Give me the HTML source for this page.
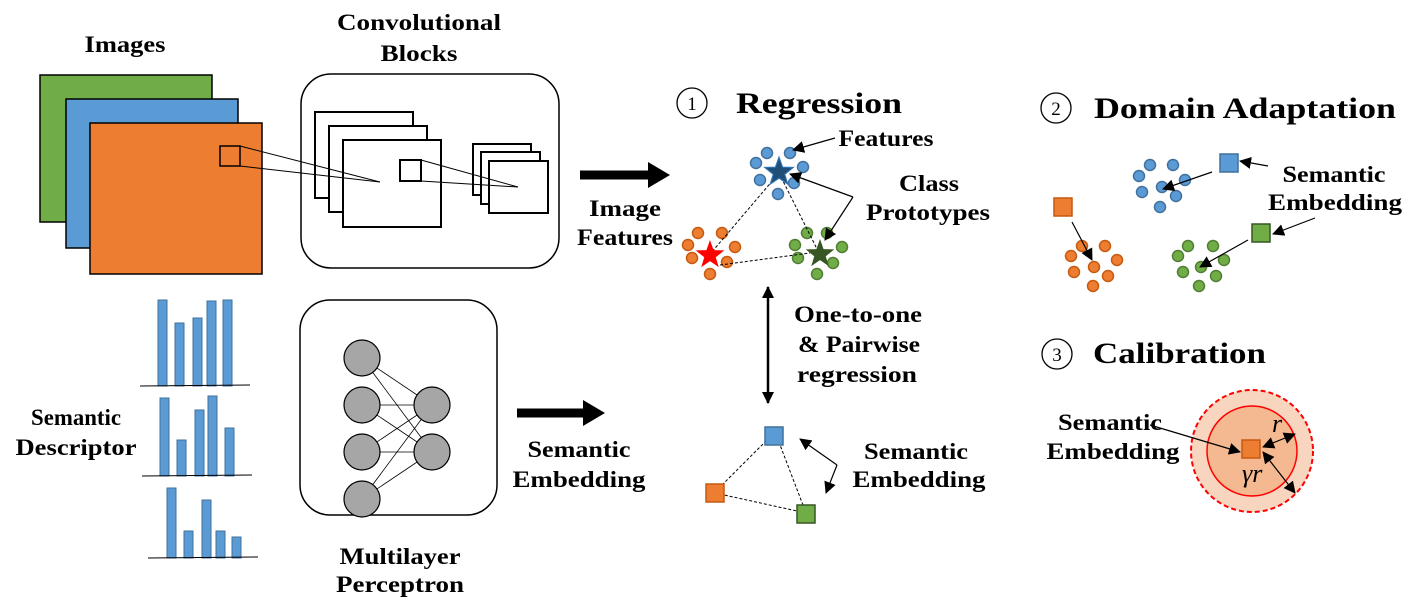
<!DOCTYPE html>
<html><head><meta charset="utf-8"><style>
html,body{margin:0;padding:0;background:#fff;}
svg{display:block;}
text{font-family:"Liberation Serif",serif;font-weight:bold;fill:#000;}
text.n{font-weight:normal;}
</style></head><body>
<svg width="1419" height="615" viewBox="0 0 1419 615" xmlns="http://www.w3.org/2000/svg">
<defs>
<marker id="ah2" markerWidth="12" markerHeight="12" refX="11" refY="6" orient="auto" markerUnits="userSpaceOnUse" viewBox="0 0 12 12">
<path d="M0,0 L12,6 L0,12 z" fill="#000"/></marker>
<marker id="ahs" markerWidth="12" markerHeight="12" refX="1" refY="6" orient="auto" markerUnits="userSpaceOnUse" viewBox="0 0 12 12">
<path d="M12,0 L0,6 L12,12 z" fill="#000"/></marker>
</defs>

<!-- Images -->
<text x="125" y="52" font-size="23" text-anchor="middle" textLength="81" lengthAdjust="spacingAndGlyphs">Images</text>
<rect x="40" y="75" width="172" height="147" fill="#70ad47" stroke="#000" stroke-width="1.5"/>
<rect x="66" y="99" width="172" height="149" fill="#5b9bd5" stroke="#000" stroke-width="1.5"/>
<rect x="90" y="123" width="172" height="151" fill="#ed7d31" stroke="#000" stroke-width="1.5"/>
<rect x="220" y="146" width="20" height="20" fill="none" stroke="#000" stroke-width="1.5"/>

<!-- Conv blocks -->
<text x="419" y="30" font-size="23" text-anchor="middle" textLength="164" lengthAdjust="spacingAndGlyphs">Convolutional</text>
<text x="419" y="61" font-size="23" text-anchor="middle" textLength="77" lengthAdjust="spacingAndGlyphs">Blocks</text>
<rect x="301" y="74" width="258" height="194" rx="30" fill="#fff" stroke="#000" stroke-width="1.5"/>
<rect x="315" y="112" width="98" height="86" fill="#fff" stroke="#000" stroke-width="2"/>
<rect x="329" y="126" width="98" height="86" fill="#fff" stroke="#000" stroke-width="2"/>
<rect x="343" y="140" width="98" height="87" fill="#fff" stroke="#000" stroke-width="2"/>
<rect x="400" y="160" width="21" height="21" fill="#fff" stroke="#000" stroke-width="2"/>
<rect x="473" y="144" width="58" height="51" fill="#fff" stroke="#000" stroke-width="2"/>
<rect x="481" y="152" width="59" height="52" fill="#fff" stroke="#000" stroke-width="2"/>
<rect x="489" y="161" width="59" height="52" fill="#fff" stroke="#000" stroke-width="2"/>
<g stroke="#000" stroke-width="1" fill="none">
<line x1="240" y1="146" x2="380" y2="182"/>
<line x1="240" y1="166" x2="380" y2="182"/>
<line x1="421" y1="160" x2="518" y2="187"/>
<line x1="421" y1="181" x2="518" y2="187"/>
</g>

<!-- big arrows -->
<line x1="580" y1="175" x2="650" y2="175" stroke="#000" stroke-width="9"/>
<path d="M648,162 L670,175 L648,188 z" fill="#000"/>
<text x="625" y="216" font-size="23" text-anchor="middle" textLength="72" lengthAdjust="spacingAndGlyphs">Image</text>
<text x="625" y="245" font-size="23" text-anchor="middle" textLength="96" lengthAdjust="spacingAndGlyphs">Features</text>

<line x1="517" y1="413" x2="585" y2="413" stroke="#000" stroke-width="9"/>
<path d="M583,400 L605,413 L583,426 z" fill="#000"/>
<text x="579" y="457" font-size="23" text-anchor="middle" textLength="103" lengthAdjust="spacingAndGlyphs">Semantic</text>
<text x="579" y="487" font-size="23" text-anchor="middle" textLength="133" lengthAdjust="spacingAndGlyphs">Embedding</text>

<!-- bar charts -->
<g fill="#5b9bd5" stroke="#41719c" stroke-width="1">
<rect x="158" y="300" width="9" height="86"/><rect x="175" y="323" width="9" height="63"/><rect x="193" y="318" width="9" height="68"/><rect x="207" y="301" width="9" height="85"/><rect x="223" y="300" width="9" height="86"/>
<rect x="160" y="398" width="9" height="78"/><rect x="177" y="440" width="9" height="36"/><rect x="195" y="410" width="9" height="66"/><rect x="208" y="396" width="9" height="80"/><rect x="225" y="428" width="9" height="48"/>
<rect x="167" y="488" width="9" height="70"/><rect x="184" y="531" width="9" height="27"/><rect x="202" y="500" width="9" height="58"/><rect x="216" y="531" width="9" height="27"/><rect x="232" y="537" width="9" height="21"/>
</g>
<g stroke="#000" stroke-width="1">
<line x1="140" y1="386" x2="250" y2="385"/><line x1="142" y1="476" x2="252" y2="475"/><line x1="148" y1="558" x2="258" y2="557"/>
</g>
<text x="76" y="425" font-size="23" text-anchor="middle" textLength="90" lengthAdjust="spacingAndGlyphs">Semantic</text>
<text x="76" y="455" font-size="23" text-anchor="middle" textLength="121" lengthAdjust="spacingAndGlyphs">Descriptor</text>

<!-- MLP -->
<rect x="300" y="300" width="197" height="215" rx="30" fill="#fff" stroke="#000" stroke-width="1.5"/>
<g stroke="#000" stroke-width="0.8">
<line x1="362" y1="358" x2="432" y2="405"/><line x1="362" y1="358" x2="432" y2="452"/>
<line x1="362" y1="405" x2="432" y2="405"/><line x1="362" y1="405" x2="432" y2="452"/>
<line x1="362" y1="452" x2="432" y2="405"/><line x1="362" y1="452" x2="432" y2="452"/>
<line x1="362" y1="499" x2="432" y2="405"/><line x1="362" y1="499" x2="432" y2="452"/>
</g>
<g fill="#a6a6a6" stroke="#000" stroke-width="1.2">
<circle cx="362" cy="358" r="18"/><circle cx="362" cy="405" r="18"/><circle cx="362" cy="452" r="18"/><circle cx="362" cy="499" r="18"/>
<circle cx="432" cy="405" r="18"/><circle cx="432" cy="452" r="18"/>
</g>
<text x="400" y="564" font-size="23" text-anchor="middle" textLength="121" lengthAdjust="spacingAndGlyphs">Multilayer</text>
<text x="400" y="592" font-size="23" text-anchor="middle" textLength="128" lengthAdjust="spacingAndGlyphs">Perceptron</text>

<!-- Regression -->
<circle cx="692" cy="103" r="15" fill="none" stroke="#000" stroke-width="1.3"/>
<text x="692" y="110" font-size="19" text-anchor="middle" class="n">1</text>
<text x="736" y="113" font-size="30" textLength="166" lengthAdjust="spacingAndGlyphs">Regression</text>

<g stroke-width="1.5">
<g fill="#5b9bd5" stroke="#41719c">
<circle cx="767" cy="153" r="5.5"/><circle cx="790" cy="153" r="5.5"/><circle cx="756" cy="163" r="5.5"/><circle cx="803" cy="167" r="5.5"/><circle cx="760" cy="180" r="5.5"/><circle cx="794" cy="183" r="5.5"/><circle cx="778" cy="194" r="5.5"/>
</g>
<g fill="#ed7d31" stroke="#c55a11">
<circle cx="698" cy="233" r="5.5"/><circle cx="722" cy="233" r="5.5"/><circle cx="688" cy="245" r="5.5"/><circle cx="735" cy="247" r="5.5"/><circle cx="692" cy="258" r="5.5"/><circle cx="727" cy="262" r="5.5"/><circle cx="710" cy="274" r="5.5"/>
</g>
<g fill="#70ad47" stroke="#507e32">
<circle cx="807" cy="233" r="5.5"/><circle cx="827" cy="233" r="5.5"/><circle cx="795" cy="245" r="5.5"/><circle cx="842" cy="247" r="5.5"/><circle cx="798" cy="258" r="5.5"/><circle cx="833" cy="263" r="5.5"/><circle cx="817" cy="274" r="5.5"/>
</g>
</g>
<g stroke="#000" stroke-width="1" stroke-dasharray="3,2" fill="none">
<line x1="779" y1="173" x2="711" y2="253"/><line x1="779" y1="173" x2="820" y2="255"/><line x1="720" y1="265" x2="810" y2="253"/>
</g>
<polygon transform="translate(779,172) scale(1.15)" points="0,-13 3.1,-4.2 12.4,-4 5,2 7.6,10.5 0,5.3 -7.6,10.5 -5,2 -12.4,-4 -3.1,-4.2" fill="#1f4e79" stroke="#2e75b6" stroke-width="1"/>
<polygon transform="translate(710,255) scale(1.15)" points="0,-13 3.1,-4.2 12.4,-4 5,2 7.6,10.5 0,5.3 -7.6,10.5 -5,2 -12.4,-4 -3.1,-4.2" fill="#ff0000"/>
<polygon transform="translate(820,254) scale(1.15)" points="0,-13 3.1,-4.2 12.4,-4 5,2 7.6,10.5 0,5.3 -7.6,10.5 -5,2 -12.4,-4 -3.1,-4.2" fill="#375623"/>
<g stroke="#000" stroke-width="1.2" fill="none">
<line x1="835" y1="138" x2="793" y2="150" marker-end="url(#ah2)"/>
<line x1="853" y1="197" x2="790" y2="174" marker-end="url(#ah2)"/>
<line x1="853" y1="197" x2="825" y2="240" marker-end="url(#ah2)"/>
</g>
<text x="886" y="146" font-size="23" text-anchor="middle" textLength="95" lengthAdjust="spacingAndGlyphs">Features</text>
<text x="929" y="191" font-size="23" text-anchor="middle" textLength="60" lengthAdjust="spacingAndGlyphs">Class</text>
<text x="928" y="220" font-size="23" text-anchor="middle" textLength="124" lengthAdjust="spacingAndGlyphs">Prototypes</text>

<line x1="768" y1="287" x2="768" y2="403" stroke="#000" stroke-width="2.5" marker-start="url(#ahs)" marker-end="url(#ah2)"/>
<text x="858" y="322" font-size="23" text-anchor="middle" textLength="128" lengthAdjust="spacingAndGlyphs">One-to-one</text>
<text x="859" y="352" font-size="23" text-anchor="middle" textLength="122" lengthAdjust="spacingAndGlyphs">&amp; Pairwise</text>
<text x="857" y="382" font-size="23" text-anchor="middle" textLength="120" lengthAdjust="spacingAndGlyphs">regression</text>

<g stroke="#000" stroke-width="1" stroke-dasharray="3,2">
<line x1="770" y1="437" x2="715" y2="492"/><line x1="777" y1="437" x2="806" y2="513"/><line x1="715" y1="493" x2="806" y2="513"/>
</g>
<rect x="765" y="427" width="18" height="18" fill="#5b9bd5" stroke="#41719c" stroke-width="1.5"/>
<rect x="706" y="484" width="18" height="18" fill="#ed7d31" stroke="#c55a11" stroke-width="1.5"/>
<rect x="797" y="505" width="18" height="18" fill="#70ad47" stroke="#375623" stroke-width="1.5"/>
<g stroke="#000" stroke-width="1.2" fill="none">
<line x1="837" y1="465" x2="800" y2="439" marker-end="url(#ah2)"/>
<line x1="837" y1="465" x2="826" y2="493" marker-end="url(#ah2)"/>
</g>
<text x="916" y="459" font-size="23" text-anchor="middle" textLength="104" lengthAdjust="spacingAndGlyphs">Semantic</text>
<text x="919" y="487" font-size="23" text-anchor="middle" textLength="133" lengthAdjust="spacingAndGlyphs">Embedding</text>

<!-- Domain adaptation -->
<circle cx="1056" cy="108" r="15" fill="none" stroke="#000" stroke-width="1.3"/>
<text x="1056" y="115" font-size="19" text-anchor="middle" class="n">2</text>
<text x="1094" y="118" font-size="30" textLength="302" lengthAdjust="spacingAndGlyphs">Domain Adaptation</text>
<g stroke-width="1.5">
<g fill="#5b9bd5" stroke="#41719c">
<circle cx="1150" cy="165" r="5.5"/><circle cx="1173" cy="165" r="5.5"/><circle cx="1139" cy="176" r="5.5"/><circle cx="1185" cy="180" r="5.5"/><circle cx="1142" cy="192" r="5.5"/><circle cx="1162" cy="187" r="5.5"/><circle cx="1176" cy="196" r="5.5"/><circle cx="1160" cy="207" r="5.5"/>
</g>
<g fill="#ed7d31" stroke="#c55a11">
<circle cx="1082" cy="246" r="5.5"/><circle cx="1105" cy="246" r="5.5"/><circle cx="1071" cy="256" r="5.5"/><circle cx="1117" cy="260" r="5.5"/><circle cx="1074" cy="272" r="5.5"/><circle cx="1094" cy="267" r="5.5"/><circle cx="1108" cy="276" r="5.5"/><circle cx="1093" cy="286" r="5.5"/>
</g>
<g fill="#70ad47" stroke="#507e32">
<circle cx="1188" cy="246" r="5.5"/><circle cx="1213" cy="246" r="5.5"/><circle cx="1178" cy="256" r="5.5"/><circle cx="1224" cy="260" r="5.5"/><circle cx="1183" cy="272" r="5.5"/><circle cx="1201" cy="267" r="5.5"/><circle cx="1216" cy="276" r="5.5"/><circle cx="1199" cy="286" r="5.5"/>
</g>
</g>
<rect x="1220" y="154" width="18" height="18" fill="#5b9bd5" stroke="#41719c" stroke-width="1.5"/>
<rect x="1054" y="198" width="18" height="18" fill="#ed7d31" stroke="#c55a11" stroke-width="1.5"/>
<rect x="1252" y="224" width="18" height="18" fill="#70ad47" stroke="#375623" stroke-width="1.5"/>
<g stroke="#000" stroke-width="1.2" fill="none">
<line x1="1212" y1="172" x2="1163" y2="189" marker-end="url(#ah2)"/>
<line x1="1268" y1="166" x2="1240" y2="161" marker-end="url(#ah2)"/>
<line x1="1072" y1="222" x2="1092" y2="260" marker-end="url(#ah2)"/>
<line x1="1248" y1="240" x2="1200" y2="267" marker-end="url(#ah2)"/>
<line x1="1315" y1="218" x2="1273" y2="234" marker-end="url(#ah2)"/>
</g>
<text x="1334" y="182" font-size="23" text-anchor="middle" textLength="103" lengthAdjust="spacingAndGlyphs">Semantic</text>
<text x="1335" y="210" font-size="23" text-anchor="middle" textLength="134" lengthAdjust="spacingAndGlyphs">Embedding</text>

<!-- Calibration -->
<circle cx="1057" cy="354" r="15" fill="none" stroke="#000" stroke-width="1.3"/>
<text x="1057" y="361" font-size="19" text-anchor="middle" class="n">3</text>
<text x="1093" y="363" font-size="30" textLength="173" lengthAdjust="spacingAndGlyphs">Calibration</text>
<circle cx="1252" cy="451" r="61" fill="#f8d5bf" stroke="#ff0000" stroke-width="2" stroke-dasharray="5,3"/>
<circle cx="1252" cy="451" r="45" fill="#f4b990" stroke="#ff0000" stroke-width="1.5"/>
<rect x="1242" y="440" width="18" height="18" fill="#ed7d31" stroke="#c55a11" stroke-width="1.5"/>
<g stroke="#000" stroke-width="1.2" fill="none">
<line x1="1150" y1="425" x2="1240" y2="452" marker-end="url(#ah2)"/>
<line x1="1263" y1="447" x2="1295" y2="434" marker-start="url(#ahs)" marker-end="url(#ah2)"/>
<line x1="1263" y1="452" x2="1295" y2="493" marker-start="url(#ahs)" marker-end="url(#ah2)"/>
</g>
<text x="1272" y="432" font-size="26" font-style="italic" class="n">r</text>
<text x="1242" y="482" font-size="26" font-style="italic" class="n">γr</text>
<text x="1110" y="430" font-size="23" text-anchor="middle" textLength="104" lengthAdjust="spacingAndGlyphs">Semantic</text>
<text x="1113" y="459" font-size="23" text-anchor="middle" textLength="133" lengthAdjust="spacingAndGlyphs">Embedding</text>
</svg>
</body></html>
